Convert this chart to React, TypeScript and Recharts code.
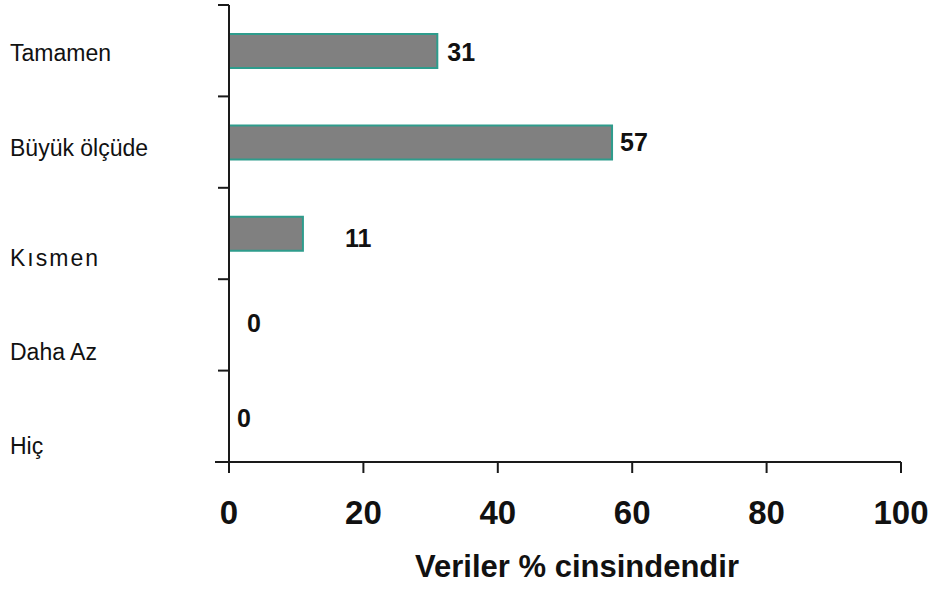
import React from 'react';
import { BarChart, Bar, XAxis, YAxis, LabelList, Rectangle } from 'recharts';

const categories = ['Tamamen', 'Büyük ölçüde', 'Kısmen', 'Daha Az', 'Hiç'];
const values = [31, 57, 11, 0, 0];
const xTicks = [0, 20, 40, 60, 80, 100];
const axisTitle = 'Veriler % cinsindendir';

// style-only offsets (not data)
const catLabelDy = [2, 6, 24, 27, 29];
const catLetterSpacing = [0, 0, 2, 0, 0];
const valueDx = [10, 8, 42, 18, 8];
const valueDy = [1, 0, 4.5, -2, 1];

const W = 935;
const H = 589;
const M = { top: 5, right: 34, left: 0, bottom: 0 };
const X_AXIS_H = 127;
const Y_AXIS_W = 229;
const PLOT_H = H - M.top - M.bottom - X_AXIS_H;
const BAND = PLOT_H / categories.length;
const FONT = "'Liberation Sans', Arial, Helvetica, sans-serif";
const AXIS_COLOR = '#1a1a1a';

const data = categories.map((name, i) => ({ name, value: values[i] }));

const YTick = (props: any) => {
  const { x, y, payload, index } = props;
  const axisX = x + 11;
  const top = y - BAND / 2;
  const bottom = y + BAND / 2;
  const fs = 23;
  return (
    <g>
      <line x1={axisX - 11} x2={axisX} y1={top} y2={top} stroke={AXIS_COLOR} strokeWidth={2} />
      {index === categories.length - 1 && (
        <line x1={axisX - 14} x2={axisX} y1={bottom} y2={bottom} stroke={AXIS_COLOR} strokeWidth={2} />
      )}
      <text
        x={10}
        y={y + catLabelDy[index] + fs * 0.358}
        fontFamily={FONT}
        fontSize={fs}
        fill="#111"
        textAnchor="start"
        letterSpacing={catLetterSpacing[index]}
      >
        {payload.value}
      </text>
    </g>
  );
};

const XTick = (props: any) => {
  const { x, y, payload } = props;
  return (
    <text
      x={x}
      y={y + 51}
      fontFamily={FONT}
      fontWeight="bold"
      fontSize={33}
      fill="#111"
      textAnchor="middle"
    >
      {payload.value}
    </text>
  );
};

const XTitle = (props: any) => {
  const vb = props.viewBox || {};
  return (
    <text
      x={vb.x + vb.width / 2 + 12}
      y={vb.y + 115}
      fontFamily={FONT}
      fontWeight="bold"
      fontSize={31}
      fill="#111"
      textAnchor="middle"
    >
      {axisTitle}
    </text>
  );
};

const BarShape = (props: any) => {
  const { value } = props;
  const v = Array.isArray(value) ? value[1] - value[0] : value;
  if (!v) return <g />;
  return <Rectangle {...props} />;
};

const ValueLabel = (props: any) => {
  const { x, y, width, height, value, index } = props;
  const fs = 25;
  const w = value ? width : 0;
  return (
    <text
      x={x + w + valueDx[index]}
      y={y + height / 2 + valueDy[index] + fs * 0.358}
      fontFamily={FONT}
      fontWeight="bold"
      fontSize={fs}
      fill="#111"
      textAnchor="start"
    >
      {value}
    </text>
  );
};

export default function App() {
  return (
    <div style={{ position: 'absolute', left: 0, top: 0, width: W, height: H, background: '#fff' }}>
      <BarChart width={W} height={H} data={data} layout="vertical" margin={M} barCategoryGap={0}>
        <XAxis
          type="number"
          domain={[0, 100]}
          ticks={xTicks}
          interval={0}
          height={X_AXIS_H}
          tickSize={11}
          tickMargin={0}
          axisLine={{ stroke: AXIS_COLOR, strokeWidth: 2 }}
          tickLine={{ stroke: AXIS_COLOR, strokeWidth: 2 }}
          tick={<XTick />}
          label={<XTitle />}
          allowDataOverflow
        />
        <YAxis
          type="category"
          dataKey="name"
          width={Y_AXIS_W}
          tickSize={11}
          tickMargin={0}
          axisLine={{ stroke: AXIS_COLOR, strokeWidth: 2 }}
          tickLine={false}
          tick={<YTick />}
          interval={0}
        />
        <Bar
          dataKey="value"
          fill="#808080"
          stroke="#2e9c8c"
          strokeWidth={2}
          barSize={34}
          minPointSize={1}
          shape={<BarShape />}
          isAnimationActive={false}
        >
          <LabelList dataKey="value" content={<ValueLabel />} />
        </Bar>
      </BarChart>
    </div>
  );
}
